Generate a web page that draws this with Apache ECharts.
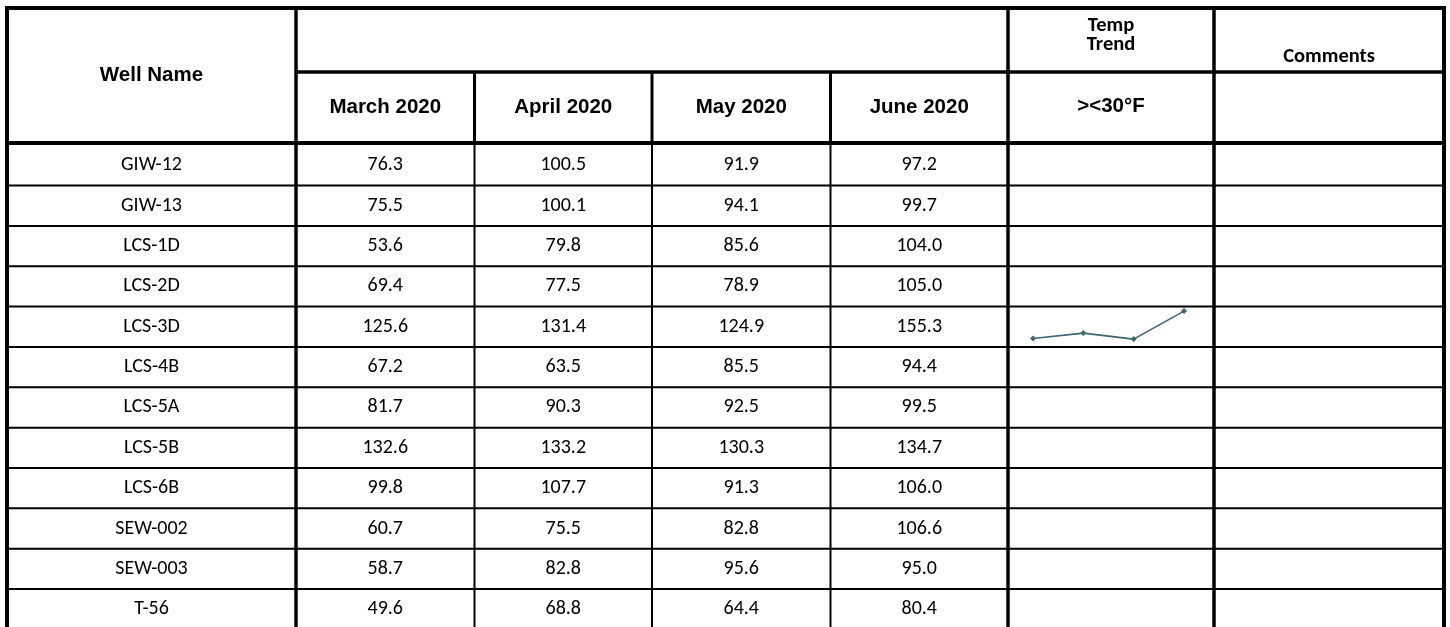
<!DOCTYPE html>
<html>
<head>
<meta charset="utf-8">
<script src="https://cdn.jsdelivr.net/npm/echarts@6/dist/echarts.min.js"></script>
<style>
html,body{margin:0;padding:0;background:#fff;}
#chart{width:1450px;height:627px;}
</style>
</head>
<body>
<div id="chart"></div>
<script>
// ---- data ----
const wells = ['GIW-12','GIW-13','LCS-1D','LCS-2D','LCS-3D','LCS-4B','LCS-5A','LCS-5B','LCS-6B','SEW-002','SEW-003','T-56'];
const months = ['March 2020','April 2020','May 2020','June 2020'];
const march = [76.3,75.5,53.6,69.4,125.6,67.2,81.7,132.6,99.8,60.7,58.7,49.6];
const april = [100.5,100.1,79.8,77.5,131.4,63.5,90.3,133.2,107.7,75.5,82.8,68.8];
const may   = [91.9,94.1,85.6,78.9,124.9,85.5,92.5,130.3,91.3,82.8,95.6,64.4];
const june  = [97.2,99.7,104.0,105.0,155.3,94.4,99.5,134.7,106.0,106.6,95.0,80.4];
const trendHeader = ['Temp', 'Trend'];
const trendSub = '><30°F';
const wellHeader = 'Well Name';
const commentsHeader = 'Comments';
const sparkWells = ['LCS-3D'];

// ---- layout ----
const colX = [7, 296, 474.5, 652, 830.5, 1008, 1214, 1444];
const topY = 8, midY = 72, headBot = 143;
const rowTop0 = 145.2, rowH = 40.35;
const W = 1450, H = 627;
const dataFont = 'Carlito, Calibri, Lato, sans-serif';
const headFont = '"Liberation Sans", Arial, sans-serif';
const boldCal = 'Carlito, Calibri, Lato, sans-serif';

const monthVals = [march, april, may, june];
const g = [];
function line(x1,y1,x2,y2,w){
  g.push({type:'line', shape:{x1,y1,x2,y2}, style:{stroke:'#000', lineWidth:w}, silent:true, z:10});
}
function text(t,x,y,font,size,weight){
  g.push({type:'text', x, y, style:{text:t, fill:'#000', font: (weight||'normal')+' '+size+'px '+font, textAlign:'center', textVerticalAlign:'middle'}, silent:true, z:11});
}
// header lines
line(colX[0]-2, topY, colX[7]+2, topY, 4);
line(colX[0], topY, colX[0], H+5, 4);
line(colX[7], topY, colX[7], H+5, 4);
line(colX[1], topY, colX[1], H+5, 3.5);
line(colX[5], topY, colX[5], H+5, 3.5);
line(colX[6], topY, colX[6], H+5, 3.5);
line(colX[1], midY, colX[7], midY, 3.5);
line(colX[0], headBot, colX[7], headBot, 4);
for (let c = 2; c <= 4; c++) {
  line(colX[c], midY, colX[c], headBot, 3);
  line(colX[c], headBot, colX[c], H+5, 2);
}
for (let r = 1; r < wells.length; r++) {
  const y = rowTop0 + r*rowH;
  line(colX[0], y, colX[7], y, 2);
}
// header text
text(wellHeader, (colX[0]+colX[1])/2, 75, headFont, 20.5, 'bold');
months.forEach((m,i)=> text(m, (colX[i+1]+colX[i+2])/2, 107, headFont, 20.5, 'bold'));
text(trendHeader[0], (colX[5]+colX[6])/2, 26, boldCal, 20.5, 'bold');
text(trendHeader[1], (colX[5]+colX[6])/2, 45, boldCal, 20.5, 'bold');
text(trendSub, (colX[5]+colX[6])/2, 106, headFont, 20.5, 'bold');
text(commentsHeader, (colX[6]+colX[7])/2, 57, boldCal, 20.5, 'bold');
// body text
wells.forEach((w,r)=>{
  const cy = rowTop0 + r*rowH + rowH/2;
  text(w, (colX[0]+colX[1])/2, cy, dataFont, 20);
  monthVals.forEach((arr,i)=> text(arr[r].toFixed(1), (colX[i+1]+colX[i+2])/2, cy, dataFont, 20));
});

// sparkline grids
const grids = [], xAxes = [], yAxes = [], series = [];
sparkWells.forEach((w,k)=>{
  const r = wells.indexOf(w);
  const top = rowTop0 + r*rowH + 4.5;
  grids.push({left: 1033, top: top, width: 151, height: 28});
  xAxes.push({type:'category', gridIndex:k, data: months, boundaryGap:false, show:false});
  yAxes.push({type:'value', gridIndex:k, min:'dataMin', max:'dataMax', show:false, splitLine:{show:false}});
  series.push({type:'line', xAxisIndex:k, yAxisIndex:k, data: monthVals.map(a=>a[r]),
    symbol:'diamond', symbolSize:6, showSymbol:true,
    lineStyle:{color:'#3f6474', width:1.6}, itemStyle:{color:'#3f6474'}, animation:false, silent:true});
});

const chart = echarts.init(document.getElementById('chart'), null, {renderer:'canvas'});
chart.setOption({
  backgroundColor:'#fff',
  animation:false,
  grid: grids, xAxis: xAxes, yAxis: yAxes, series: series,
  graphic: g
});
</script>
</body>
</html>
